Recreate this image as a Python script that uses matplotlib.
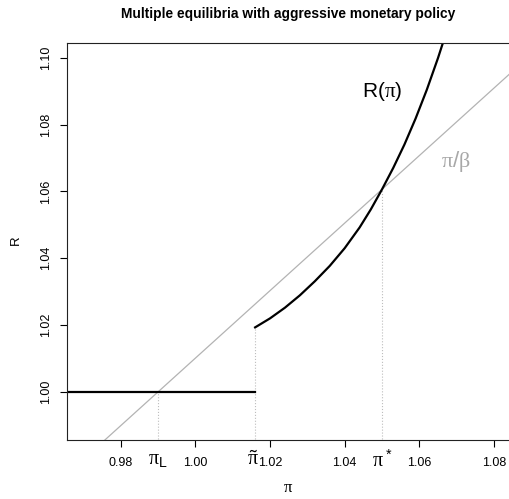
import matplotlib
matplotlib.use("Agg")
import matplotlib.pyplot as plt
import matplotlib.transforms as mtransforms

plt.rcParams["font.family"] = ["Liberation Sans", "DejaVu Sans"]
plt.rcParams["mathtext.fontset"] = "custom"
plt.rcParams["mathtext.rm"] = "Liberation Sans"
plt.rcParams["mathtext.it"] = "Liberation Serif"
plt.rcParams["mathtext.sf"] = "Liberation Sans"

# model quantities
beta = 0.99
pi_L = 0.99
pi_tilde = 1.016
pi_star = 1.05
R_star = 1.0606

# Taylor-rule branch R(pi), above the threshold pi_tilde
pi_vals = [pi_tilde, 1.020, 1.024, 1.028, 1.032, 1.036, 1.040, 1.044, 1.047,
           pi_star, 1.053, 1.056, 1.059, 1.062, 1.065, 1.067]
R_vals = [1.0193, 1.0220, 1.0252, 1.0289, 1.0331, 1.0377, 1.0430, 1.0492, 1.0546,
          R_star, 1.0670, 1.0740, 1.0818, 1.0904, 1.0999, 1.1068]

# zero lower bound branch
zlb_pi = [0.96, pi_tilde]
zlb_R = [1.0, 1.0]

xticks = [0.98, 1.00, 1.02, 1.04, 1.06, 1.08]
yticks = [1.00, 1.02, 1.04, 1.06, 1.08, 1.10]

fig = plt.figure(figsize=(5.09, 4.99), dpi=100)
ax = fig.add_axes([67 / 509, 59 / 499, 443.4 / 509, 397 / 499])

ax.set_xlim(0.9656, 1.0844)
ax.set_ylim(0.9856, 1.1044)

# Fisher relation R = pi / beta
ax.axline((pi_L, 1.0), slope=1 / beta, color="#b3b3b3", lw=0.9)

ax.vlines([pi_L, pi_tilde, pi_star], 0.97, [1.0, R_vals[0], R_star],
          colors="#bdbdbd", linestyles=":", lw=0.8)

ax.plot(zlb_pi, zlb_R, color="black", lw=1.6)
ax.plot(pi_vals, R_vals, color="black", lw=1.6)

ax.text(1.0499, 1.0899, r"$\mathrm{R}(\pi)$", fontsize=15, ha="center", va="center")
ax.text(1.0698, 1.0688, r"$\pi/\beta$", fontsize=16, color="#a8a8a8",
        ha="center", va="center")

ax.set_xticks(xticks)
ax.set_xticklabels([f"{t:.2f}" for t in xticks])
ax.set_yticks(yticks)
ax.set_yticklabels([f"{t:.2f}" for t in yticks], rotation=90, va="center")
ax.tick_params(axis="x", which="major", length=5, width=0.8, labelsize=9, pad=7)
ax.tick_params(axis="y", which="major", length=5, width=0.8, labelsize=9, pad=6)

# equilibrium markers under the axis, no tick marks
below = mtransforms.blended_transform_factory(ax.transData, ax.transAxes)
eq_pos = [pi_L, pi_tilde, pi_star]
eq_labels = [r"$\pi_\mathrm{L}$", r"$\tilde{\pi}$", r"$\pi^*$"]
eq_shift = [0, -2, 0]
for x, lab, dx in zip(eq_pos, eq_labels, eq_shift):
    tr = below + mtransforms.ScaledTranslation(dx / 100, 0, fig.dpi_scale_trans)
    ax.text(x, -0.024, lab, transform=tr, fontsize=14.5, ha="center", va="top",
            clip_on=False)

for sp in ax.spines.values():
    sp.set_linewidth(0.8)
    sp.set_color("#222222")

fig.text(288 / 509, 1 - 14 / 499, "Multiple equilibria with aggressive monetary policy",
         fontsize=9.9, fontweight="bold", ha="center", va="center")
fig.text(288 / 509, 1 - 488 / 499, r"$\pi$", fontsize=12, ha="center", va="center")
fig.text(16 / 509, 1 - 240 / 499, "R", fontsize=9.5, rotation=90, ha="center", va="center")

fig.savefig("out.png", dpi=100)
